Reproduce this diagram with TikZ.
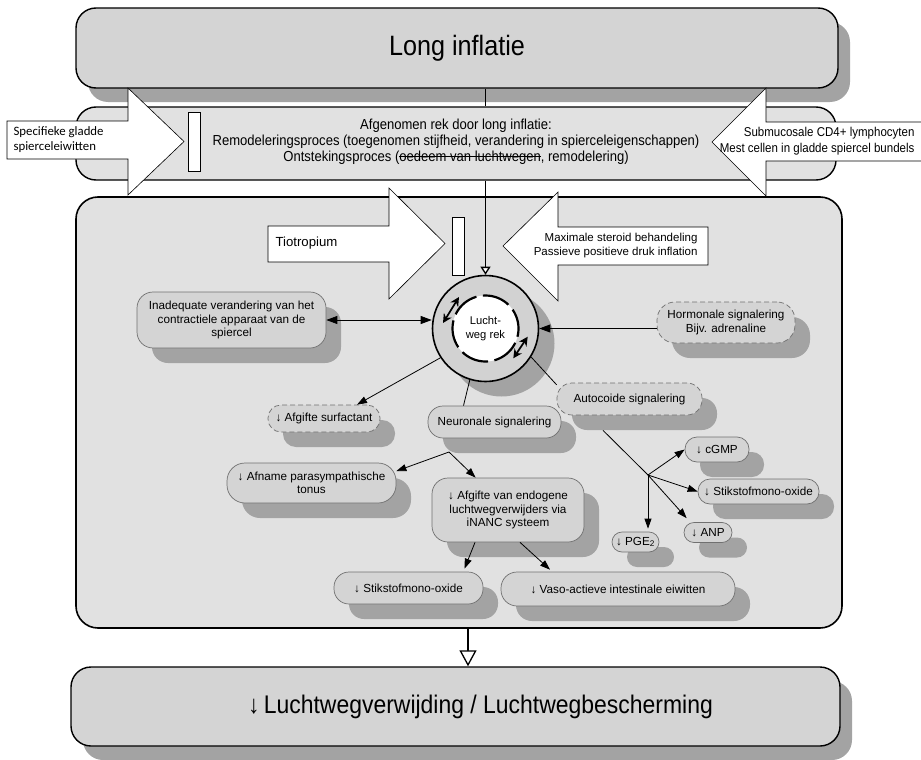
\documentclass[tikz,border=0pt]{standalone}
\usepackage{fontspec}
\setmainfont{Liberation Sans}
\newfontfamily\nar{Liberation Sans}[FakeStretch=0.9]
\newfontfamily\carl{Carlito}
\newsavebox\strkbox
\newcommand\strk[1]{\sbox\strkbox{#1}\rlap{\rule[0.3em]{\wd\strkbox}{0.7pt}}\usebox\strkbox}
\usetikzlibrary{arrows.meta,calc,shadows}
\definecolor{boxg}{HTML}{D4D4D4}
\definecolor{bandg}{HTML}{E1E1E1}
\definecolor{ringg}{HTML}{D2D2D2}
\definecolor{shg}{HTML}{A3A3A3}
\definecolor{edg}{HTML}{707070}
\begin{document}
\begin{tikzpicture}[x=1pt,y=-1pt,
  big/.style={draw=black, line width=1.4pt, rounded corners=20pt, fill=boxg, inner sep=0pt},
  bigshadow/.style={drop shadow={shadow xshift=12pt, shadow yshift=-14pt, fill=shg, opacity=1}},
  sbox/.style={draw=edg, line width=0.7pt, fill=boxg, align=center, inner sep=0pt,
    font=\fontsize{11.7}{13.6}\selectfont,
    drop shadow={shadow xshift=15pt, shadow yshift=-15pt, fill=shg, opacity=1}},
  dbox/.style={sbox, dash pattern=on 5pt off 3pt},
  blockarrow/.style={draw=black, line width=0.6pt, fill=white},
  inhibar/.style={draw=black, line width=0.6pt, fill=white},
  conn/.style={draw=black, line width=0.8pt},
  tip/.style={-{Triangle[length=10pt,width=7pt]}},
  ringarrow/.style={line width=1.7pt, {Stealth[length=9pt,width=9pt]}-{Stealth[length=9pt,width=9pt]}},
  opentip/.style={line width=1.3pt, -{Triangle[open,fill=white,length=8pt,width=10pt]}},
]
\useasboundingbox (0,0) rectangle (921,760);

% big boxes
\node[big, bigshadow, minimum width=762, minimum height=80] (top) at (457,48)
  {\nar\fontsize{28}{31}\selectfont Long inflatie};
\node[big, fill=bandg, minimum width=760, minimum height=73] (band) at (456,143.5) {};
\node[big, fill=bandg, line width=1.6pt, rounded corners=22pt, minimum width=766, minimum height=431] (main) at (459,412.5) {};
\node[big, bigshadow, minimum width=769, minimum height=79] (bot) at (455.5,706.5) {};
\node[font=\nar\fontsize{25.5}{28}\selectfont] (bottext) at ($(bot.center)+(25,0)$)
  {↓\,Luchtwegverwijding / Luchtwegbescherming};

\node[align=center, font=\nar\fontsize{14.5}{16}\selectfont] (bt) at (456,141.5)
  {Afgenomen rek door long inflatie:\\
   Remodeleringsproces (toegenomen stijfheid, verandering in spierceleigenschappen)\\
   Ontstekingsproces (\strk{oedeem van luchtwegen}, remodelering)};

% block arrows
\draw[blockarrow] (7,121) -- (128,121) -- (128,88) -- (184,141.5) -- (128,195) -- (128,159) -- (7,159) -- cycle;
\draw[blockarrow] (930,122) -- (766,122) -- (766,88) -- (712,142) -- (766,196) -- (766,161) -- (930,161) -- cycle;
\draw[blockarrow] (268,226) -- (389,226) -- (389,188) -- (445,243.5) -- (389,299) -- (389,262) -- (268,262) -- cycle;
\draw[blockarrow] (708,227) -- (558,227) -- (558,192) -- (503,246) -- (558,301) -- (558,265) -- (708,265) -- cycle;

\node[anchor=west, align=left, font=\carl\fontsize{12.8}{15}\selectfont] (lt) at (10,140) {Specifieke gladde\\spierceleiwitten};
\node[anchor=east, align=right, font=\nar\fontsize{12.8}{15.5}\selectfont] (rt) at (918,141) {Submucosale CD4+ lymphocyten\\Mest cellen in gladde spiercel bundels};
\node[anchor=west, font=\fontsize{13.2}{15}\selectfont] (tio) at (272,243.5) {Tiotropium};
\node[anchor=east, align=right, font=\fontsize{11.5}{14}\selectfont] (maxs) at (701,246) {Maximale steroid behandeling\\Passieve positieve druk inflation};

\draw[inhibar] (188,112) rectangle (200,171);
\draw[inhibar] (452,217) rectangle (464,275);

% central circle
\node[circle, draw=black, line width=1.6pt, fill=ringg, minimum size=106, inner sep=0pt,
  drop shadow={shadow xshift=16pt, shadow yshift=-15pt, fill=shg, opacity=1}] (circ) at (485.5,328.5) {};
\fill[white] (circ.center) circle[radius=33pt];
\draw[line width=2.2pt, dash pattern=on 28pt off 6.5pt, dash phase=8pt] (circ.center) circle[radius=33pt];
\node[align=center, font=\fontsize{11.2}{13.5}\selectfont] (ctext) at (circ.center) {Lucht-\\weg rek};
\draw[ringarrow] ($(circ.center)+(-42.5,-5.5)$) -- ($(circ.center)+(-26.5,-31.5)$);
\draw[ringarrow] ($(circ.center)+(27.8,29.8)$) -- ($(circ.center)+(42.2,8.2)$);

% small nodes
\node[sbox, minimum width=189, minimum height=56, rounded corners=16pt] (inad) at (231.5,320)
  {Inadequate verandering van het\\contractiele apparaat van de\\spiercel};
\node[dbox, minimum width=138, minimum height=41, rounded corners=18pt] (horm) at (726,322.5)
  {Hormonale signalering\\Bijv. adrenaline};
\node[dbox, minimum width=112, minimum height=27, rounded corners=13pt] (surf) at (324,418.5)
  {↓ Afgifte surfactant};
\node[sbox, minimum width=133, minimum height=32, rounded corners=15pt] (neur) at (494.5,422)
  {Neuronale signalering};
\node[dbox, minimum width=145, minimum height=32, rounded corners=15pt] (auto) at (629.5,399)
  {Autocoide signalering};
\node[sbox, minimum width=169, minimum height=40, rounded corners=18pt] (afname) at (311.5,483)
  {↓ Afname parasympathische\\tonus};
\node[sbox, minimum width=152, minimum height=64, rounded corners=16pt] (endo) at (508,510)
  {↓ Afgifte van endogene\\luchtwegverwijders via\\iNANC systeem};
\node[sbox, minimum width=149, minimum height=32, rounded corners=15pt] (stika) at (408.5,588)
  {↓ Stikstofmono-oxide};
\node[sbox, minimum width=234, minimum height=34, rounded corners=16pt] (vaso) at (618,589)
  {↓ Vaso-actieve intestinale eiwitten};
\node[sbox, minimum width=64, minimum height=25, rounded corners=12pt] (cgmp) at (717,449.5)
  {↓ cGMP};
\node[sbox, minimum width=121, minimum height=25, rounded corners=12pt] (stikb) at (758.5,491.5)
  {↓ Stikstofmono-oxide};
\node[sbox, minimum width=48, minimum height=20, rounded corners=10pt] (anp) at (708,532.5)
  {↓ ANP};
\node[sbox, minimum width=47, minimum height=20, rounded corners=10pt] (pge) at (635.5,542)
  {↓ PGE\textsubscript{2}};

% connectors
\draw[conn, line width=1.3pt] (top.south -| circ.north) -- (band.north -| circ.north);
\draw[conn, opentip] (band.south -| circ.north) -- (circ.north);
\draw[conn, {Triangle[length=11pt,width=8pt]}-{Triangle[length=11pt,width=8pt]}] (inad.east) -- (inad.east -| circ.west);
\draw[conn, -{Triangle[length=11pt,width=8pt]}] (horm.west |- circ.east) -- (circ.east);
\draw[conn, tip] (circ.213) -- ($(surf.north)+(33,0)$);
\draw[conn] (circ.253) -- ($(neur.north)+(-31,0)$);
\draw[conn] (circ.-32) -- (auto.169);

\coordinate (abr) at (648,475);
\draw[conn] ($(auto.south)+(-26.5,15)$) -- (abr);
\draw[conn, tip] (abr) -- (cgmp.west);
\draw[conn, tip] (abr) -- (stikb.west);
\draw[conn, tip] (abr) -- ($(anp.north west)+(3,-4)$);
\draw[conn, tip] (abr) -- ($(abr |- pge.north)+(0,-3)$);

\coordinate (nbr) at (449,452);
\draw[conn, tip] (nbr) -- (afname.8);
\draw[conn, tip] (nbr) -- (endo.135);

\draw[conn, tip] ($(endo.south)+(-33,0)$) -- ($(stika.north)+(56,-3)$);
\draw[conn, tip] ($(endo.south)+(12,0)$) -- ($(vaso.north)+(-68,-2)$);

\coordinate (mbot) at ($(main.south)+(9,0)$);
\draw[conn, line width=1.3pt, -{Triangle[open,fill=white,length=16pt,width=17pt]}] (mbot) -- (mbot |- bot.north);
\end{tikzpicture}
\end{document}
